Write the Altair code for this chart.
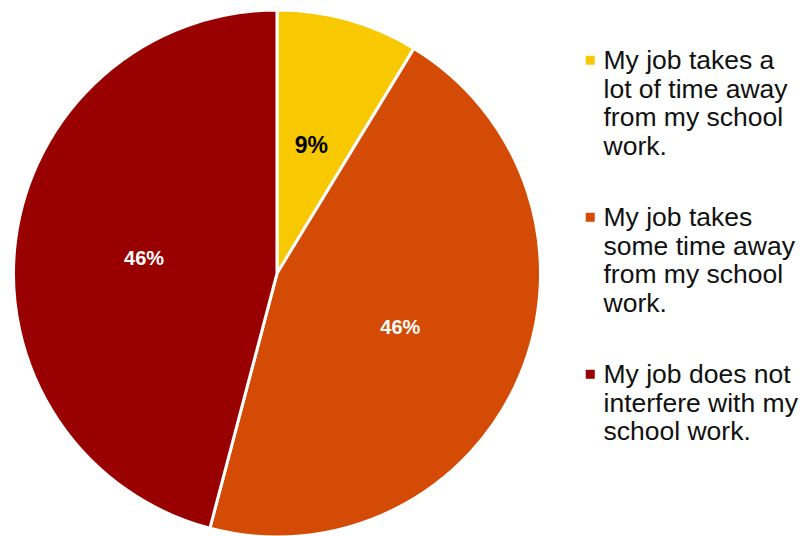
import altair as alt
import pandas as pd

categories = [
    "My job takes a|lot of time away|from my school|work.",
    "My job takes|some time away|from my school|work.",
    "My job does not|interfere with my|school work.",
]
values = [8.7, 45.4, 45.9]
labels = ["9%", "46%", "46%"]
colors = ["#F8C800", "#D34B04", "#990000"]

df = pd.DataFrame({"cat": categories, "value": values, "label": labels, "idx": [0, 1, 2]})

theta = alt.Theta("value:Q", stack=True)
order = alt.Order("idx:O")

base = alt.Chart(df)

cx, cy = 277, 273.5

arc = base.mark_arc(radius=263.5, stroke="white", strokeWidth=3).encode(
    theta=theta,
    order=order,
    x=alt.value(cx),
    y=alt.value(cy),
    color=alt.Color(
        "cat:N",
        scale=alt.Scale(domain=categories, range=colors),
        sort=categories,
        legend=alt.Legend(
            title=None,
            orient="none",
            legendX=577,
            legendY=35,
            symbolType="M-1,1.67H1V3.67H-1Z",
            symbolSize=81,
            symbolStrokeWidth=0,
            labelFont="Liberation Sans",
            labelFontSize=26.5,
            labelColor="#111111",
            labelLimit=0,
            labelBaseline="top",
            labelOffset=0,
            labelExpr="split(datum.label, '|')",
            rowPadding=31,
        ),
    ),
)

txt_small = base.transform_filter("datum.idx == 0").mark_text(
    radius=127, dy=-5.5, font="Liberation Sans", fontSize=23, fontWeight="bold", color="black"
).encode(theta=theta, order=order, text="label:N", x=alt.value(cx), y=alt.value(cy))

txt_big = base.mark_text(
    radius=134, dy=2.5, font="Liberation Sans", fontSize=20, fontWeight="bold", color="white"
).encode(
    theta=theta,
    order=order,
    text=alt.condition("datum.idx == 0", alt.value(""), "label:N"),
    x=alt.value(cx),
    y=alt.value(cy),
)

chart = alt.layer(arc, txt_big, txt_small).properties(
    width=803, height=536, padding=0, autosize=alt.AutoSizeParams(type="none")
).configure_view(stroke=None)

chart.save("out.html", embed_options={"renderer": "svg", "actions": False})
